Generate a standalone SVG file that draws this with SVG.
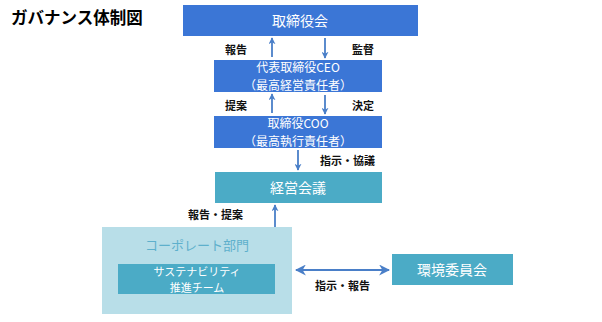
<svg xmlns="http://www.w3.org/2000/svg" width="602" height="322" viewBox="0 0 602 322">
<defs>
<marker id="ah" viewBox="0 0 10 10" refX="9" refY="5" markerWidth="7" markerHeight="7" orient="auto-start-reverse" markerUnits="userSpaceOnUse">
<path d="M0,0 L10,5 L0,10 L3,5 Z" fill="#4a7fc8"/>
</marker>
<marker id="ah2" viewBox="0 0 10 10" refX="9" refY="5" markerWidth="11" markerHeight="11" orient="auto-start-reverse" markerUnits="userSpaceOnUse">
<path d="M0,0 L10,5 L0,10 L3,5 Z" fill="#4a7fc8"/>
</marker>
<style>
text{font-family:"Noto Sans CJK JP","Noto Sans",sans-serif}
.blue{fill:#3b76d6}
.teal{fill:#4babc6}
.light{fill:#b8dee8}
.w{fill:#fff;font-size:14px;text-anchor:middle}
.w2{fill:#fff;font-size:12px;text-anchor:middle}
.lab{fill:#111;font-size:11px;font-weight:bold}
.ar{stroke:#4a7fc8;stroke-width:1.8;fill:none;marker-end:url(#ah)}
</style>
</defs>
<text x="11" y="24" style="font-size:16.5px;font-weight:bold;fill:#000">ガバナンス体制図</text>
<g id="board"><rect class="blue" x="183" y="5" width="235" height="31"/><text class="w" x="300" y="26">取締役会</text></g>
<g id="ceo"><rect class="blue" x="214" y="60" width="168" height="32"/><text class="w2" x="298" y="72">代表取締役CEO</text><text class="w2" x="298" y="89.5">（最高経営責任者）</text></g>
<g id="coo"><rect class="blue" x="214" y="116" width="168" height="32"/><text class="w2" x="298" y="128">取締役COO</text><text class="w2" x="298" y="145.5">（最高執行責任者）</text></g>
<g id="mgmt"><rect class="teal" x="215" y="172" width="167" height="31"/><text class="w" x="298" y="193">経営会議</text></g>
<g id="corp"><rect class="light" x="102" y="227" width="190" height="87"/><text x="197" y="250" style="font-size:13px;fill:#5eb0cc;text-anchor:middle">コーポレート部門</text></g>
<g id="team"><rect class="teal" x="118" y="264" width="157" height="30"/><text class="w" x="197" y="275.5" style="font-size:11px">サステナビリティ</text><text class="w" x="197" y="291.5" style="font-size:11px">推進チーム</text></g>
<g id="env"><rect class="teal" x="392" y="254" width="121" height="31"/><text class="w" x="452" y="275">環境委員会</text></g>
<g id="connectors">
<line class="ar" x1="272" y1="57" x2="272" y2="38"/>
<line class="ar" x1="325" y1="38" x2="325" y2="58"/>
<line class="ar" x1="272" y1="113" x2="272" y2="94"/>
<line class="ar" x1="325" y1="95" x2="325" y2="114"/>
<line class="ar" x1="298" y1="150" x2="298" y2="170"/>
<line class="ar" x1="275" y1="227" x2="275" y2="205"/>
<line x1="296" y1="270" x2="389" y2="270" style="stroke:#4a7fc8;stroke-width:1.8;marker-start:url(#ah2);marker-end:url(#ah2)"/>
<text class="lab" x="225" y="54">報告</text>
<text class="lab" x="352" y="54">監督</text>
<text class="lab" x="225" y="110">提案</text>
<text class="lab" x="352" y="110">決定</text>
<text class="lab" x="320" y="165">指示・協議</text>
<text class="lab" x="188" y="219">報告・提案</text>
<text class="lab" x="315" y="290">指示・報告</text>
</g>
</svg>
